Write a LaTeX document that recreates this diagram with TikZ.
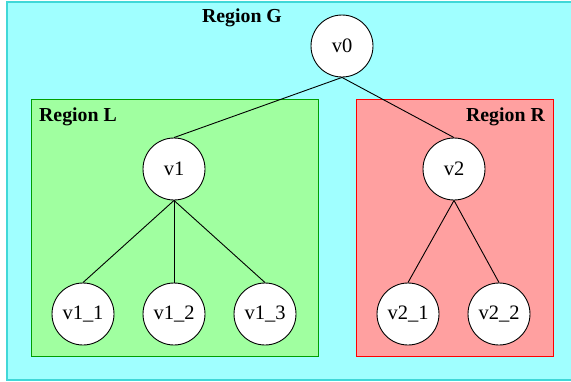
\documentclass[tikz,border=0pt]{standalone}
\usepackage{fontspec}
\setmainfont{Liberation Serif}
\definecolor{gfill}{RGB}{160,255,255}
\definecolor{gline}{RGB}{64,216,216}
\definecolor{lfill}{RGB}{160,255,160}
\definecolor{lline}{RGB}{0,160,0}
\definecolor{rfill}{RGB}{255,160,160}
\definecolor{rline}{RGB}{255,0,0}
\tikzset{
  vert/.style={circle, draw=black, fill=white, line width=0.9pt, minimum size=62pt, inner sep=0pt, font=\fontsize{20.5}{24}\selectfont},
  regionlabel/.style={font=\fontsize{19.8}{23}\selectfont\bfseries, inner sep=0pt},
  edge/.style={draw=black, line width=0.9pt}
}
\begin{document}
\begin{tikzpicture}[x=1pt,y=-1pt]
\clip (0,0) rectangle (571,381);
\fill[white] (0,0) rectangle (571,381);
\draw[gline, fill=gfill, line width=1.2pt] (7,2) rectangle (580,380);
\draw[lline, fill=lfill, line width=1pt] (31,99.5) rectangle (318,356);
\draw[rline, fill=rfill, line width=1pt] (356,99.5) rectangle (553,356);
\node[regionlabel] (lg) at (242,18) {Region G};
\node[regionlabel, anchor=west] (ll) at (39,117) {Region L};
\node[regionlabel, anchor=east] (lr) at (545,117) {Region R};
\node[vert] (v0) at (342,46) {v0};
\node[vert] (v1) at (174,169) {v1};
\node[vert] (v2) at (454,169) {v2};
\node[vert] (v11) at (83,314) {v1\_1};
\node[vert] (v12) at (174,314) {v1\_2};
\node[vert] (v13) at (265,314) {v1\_3};
\node[vert] (v21) at (408,314) {v2\_1};
\node[vert] (v22) at (499,314) {v2\_2};
\draw[edge] (v0.south) -- (v1.north);
\draw[edge] (v0.south) -- (v2.north);
\draw[edge] (v1.south) -- (v11.north);
\draw[edge] (v1.south) -- (v12.north);
\draw[edge] (v1.south) -- (v13.north);
\draw[edge] (v2.south) -- (v21.north);
\draw[edge] (v2.south) -- (v22.north);
\end{tikzpicture}
\end{document}
